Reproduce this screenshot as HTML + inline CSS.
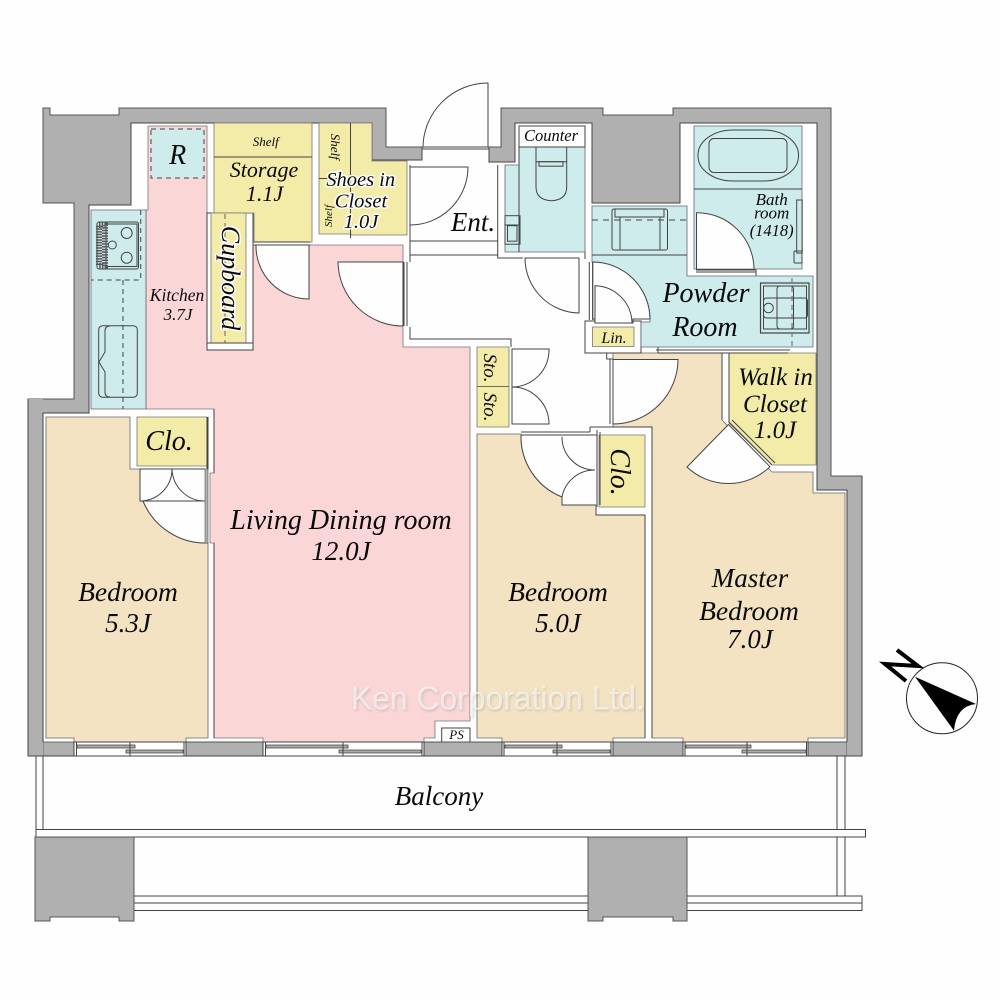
<!DOCTYPE html>
<html><head><meta charset="utf-8"><title>Floor plan</title>
<style>
html,body{margin:0;padding:0;background:#fefefe}
svg{display:block}
text{font-family:"Liberation Serif",serif;font-style:italic;text-anchor:middle;fill:#0a0a0a}
.h{paint-order:stroke;stroke:#fff;stroke-width:3px;stroke-linejoin:round}
.l{fill:none;stroke:#444;stroke-width:1}
.w{fill:#fefefe;stroke:#444;stroke-width:1}
.g{fill:#b0b0b0;stroke:#555;stroke-width:1}
.y{fill:#f3eba8;stroke:#777;stroke-width:.8}
.b{fill:#f3e3c3;stroke:#666;stroke-width:.8}
.p{fill:#fad6d6;stroke:#777;stroke-width:.8}
.c{fill:#cdeceb;stroke:#667;stroke-width:.8}
.d{fill:none;stroke:#444;stroke-width:1;stroke-dasharray:5 4}
.s{fill:#aaa;stroke:#444;stroke-width:.8}
</style></head><body>
<svg width="1000" height="1000" viewBox="0 0 1000 1000" xmlns="http://www.w3.org/2000/svg">
<defs><filter id="bl"><feGaussianBlur stdDeviation="1.2"/></filter></defs>
<rect width="1000" height="1000" fill="#fefefe"/>

<!-- balcony -->
<path class="l" d="M36,756V837M43,756V830M837,756V896M845,756V896" />
<rect class="w" x="36" y="829.5" width="829.5" height="7.5"/>
<path class="w" d="M134,896H588V903H134ZM134,903H588V910.5H134ZM687,896H862V903H687ZM687,903H862V910.5H687Z"/>
<path class="g" d="M35,837H134V921H119V917H50V921H35Z"/>
<path class="g" d="M588,837H687V921H673V917H603V921H588Z"/>

<!-- walls -->
<path class="g" d="M43,108H50V115H119V108H386V147H422V160H489V147H501V108H603V115H673V108H831V476H862V756H28V399H74V203H43Z"/>
<path class="w" d="M131,123H372V160H422V147H489V162H515V123H592V203H680V123H817V490H847V756H43V413H89V205H131Z"/>

<!-- rooms -->
<path class="p" d="M148,126H207V350H253V245H403V347H470V721H435V738H424V742H263V738H214V543H210V473H214V409H146V210H148Z"/>
<path class="w" d="M207,213H253V350H207Z" />
<path class="b" d="M46,417H130V469H140V501H143A68,68 0 0 0 208,543V738H186V742H74V738H46Z"/>
<path class="b" d="M477,434H521A65,65 0 0 0 562,497V505H596V515H645V738H613V742H502V738H477Z"/>
<path class="b" d="M613,353H722V420L772,472H813V493H845V738H808V742H683V738H652V427H613Z"/>

<!-- white wall strip between bedrooms -->
<path class="w" d="M596,507H645V515H596Z" style="stroke:none"/>
<path class="l" d="M596,507V515H645V738M652,738V427H590M590,427V432"/>

<!-- yellow rooms -->
<path class="y" d="M214,123H312V242H254V213H214Z"/>
<path class="l" d="M214,157H312"/>
<path class="y" d="M211,213H246V343H211Z"/>
<path class="d" d="M225,214V343" style="stroke-width:.8"/>
<path class="y" d="M319,123H372V161H407V235H351V234H319Z"/>
<path class="l" d="M350.5,123V238M319,178.5H350.5"/>
<path class="y" d="M137,417H207V466H137Z"/>
<path class="y" d="M477,347H509V427H477Z"/>
<path class="l" d="M477,386.5H509" style="stroke-width:.7"/>
<path class="y" d="M599,435H645V507H599Z"/>
<path class="w" d="M585,321H641V353H585Z"/>
<path class="y" d="M592.5,327H634V346.5H592.5Z"/>
<path class="y" d="M729,353H816V465H772L729,423Z"/>

<!-- teal rooms -->
<path class="c" d="M91,210H146V409H91Z"/>
<path class="c" d="M151,129H204V178H151Z" style="stroke:none"/>
<path class="d" d="M151,129H204V178H151Z"/>
<path class="c" d="M505,165H519V147H585V252H505Z"/>
<path class="w" d="M519,126H585V147H519Z"/>
<path class="c" d="M592,206H687V276H813V347H641V322H650A57.5,57.5 0 0 0 592,262Z"/>
<path class="l" d="M592,255H687"/>
<path class="c" d="M694,126H802V269H694Z"/>
<path class="l" d="M694,189H802"/>

<!-- kitchen fixtures -->
<rect class="l" x="97" y="222" width="41.5" height="47" rx="2"/>
<rect class="l" x="106" y="224" width="31" height="42.5"/>
<rect class="l" x="99" y="225" width="6" height="41" style="stroke:#555;stroke-dasharray:1.5 1.2;stroke-width:6" />
<circle class="l" cx="126.7" cy="233" r="5.5"/><circle class="l" cx="112.3" cy="245" r="4"/><circle class="l" cx="126.7" cy="257.7" r="5.5"/>
<path class="d" d="M140.7,210V280H91M123,280V409"/>
<rect class="l" x="98.7" y="325.7" width="38.6" height="71.6" rx="4"/>
<path class="l" d="M105,331Q105,326 110,326M105,331V352L99,362L105,372V392Q105,397 110,397"/>

<!-- toilet -->
<path class="l" d="M536,147V187Q536,200 551.5,200.7Q566.7,200 566.7,187V147M536,161.7H566.7"/>
<rect class="l" x="539" y="161.7" width="24" height="4.5"/>
<rect class="l" x="505" y="215.7" width="15" height="28.5"/>
<path class="l" d="M505,225H520M519,147V252"/>
<rect class="l" x="507.5" y="225.7" width="9.5" height="15.5"/>

<!-- washer -->
<rect class="l" x="612" y="209" width="55.5" height="41" rx="2"/>
<path class="l" d="M615,209V217H664V209M620,217V250M660,217V250"/>
<path class="d" d="M592,220H687" style="stroke-dasharray:6 5"/>

<!-- bath -->
<rect class="l" x="698" y="130" width="100.5" height="51" rx="35" ry="25"/>
<rect class="l" x="709" y="138.5" width="78" height="34" rx="5"/>
<rect class="l" x="796.7" y="200" width="5.5" height="53"/>
<rect class="l" x="794" y="251" width="8" height="12" rx="1"/>
<path class="w" d="M696.5,212.7A57,57 0 0 1 754,269.3H696.5Z"/>
<path class="l" d="M696,270H756M696,272H756M756,269.5V276"/>

<!-- washbasin -->
<rect x="760.5" y="283" width="48.5" height="50" fill="none" stroke="#444" stroke-width="1.2"/>
<rect class="l" x="763.5" y="286" width="43" height="43"/>
<rect class="l" x="763.5" y="298" width="44" height="20" rx="3"/>
<rect class="l" x="777" y="286" width="16.5" height="43" rx="3"/>
<circle class="l" cx="768.5" cy="308" r="4.8"/>
<path class="d" d="M792,278V347" style="stroke:#778;stroke-width:1.2"/>

<!-- doors -->
<path class="w" d="M488,147V83A65,65 0 0 0 423,147" style="fill:#fefefe"/>
<path class="l" d="M422,147H489M422,149H489"/>
<path class="w" d="M410,167H468A58,58 0 0 1 410,225Z"/>
<path class="w" d="M309,245V299A53,53 0 0 1 256,245Z"/>
<path class="w" d="M403,262H338A65,65 0 0 0 403,326Z"/>
<path class="w" d="M579,258V313A55,55 0 0 1 525,258Z"/>
<path class="w" d="M592.7,262A57.5,57.5 0 0 1 650,319H633V323H595V319H592.7Z" style="stroke-linejoin:bevel"/>
<path class="w" d="M595,285.7A38,38 0 0 1 632,323H595Z"/>
<path class="w" d="M512,349H549A37,37 0 0 1 512,387Z"/>
<path class="w" d="M512,387A37,37 0 0 1 549,424H512Z"/>
<path class="w" d="M613,359.5H678A65,65 0 0 1 613,424Z"/>
<path class="w" d="M728.5,424.5L770,466.7A60,60 0 0 1 687,467Z"/>
<path class="l" d="M729,422L772,465M732,420L775,463"/>
<path class="w" d="M140,469H205V543H208A68,68 0 0 1 143,501H140Z" style="stroke:none"/>
<path class="l" d="M143,501A68,68 0 0 0 208,543"/>
<path class="l" d="M140,469V501A32,32 0 0 0 172,469A33,33 0 0 0 205,501H140M140,469H205"/>
<path class="g" d="M205,469H208V543H205Z" style="stroke-width:.6"/>
<path class="w" d="M521,435H595V505H562V497A65,65 0 0 1 521,435Z" style="stroke:none"/>
<path class="l" d="M521,435A65,65 0 0 0 562,497V505H596"/>
<path class="l" d="M562,436.7A33,33 0 0 0 595,470A33,33 0 0 0 562,497"/>
<path class="l" d="M521,432H590M521,435H597M597,430V507M600,432V505"/>

<!-- misc wall lines -->
<path class="l" d="M410,165V262M410,327V339H511V347M404,262V326M407,262V326M410,241H497.7M410,255H497.7M497.7,165V258H523M585,252V259M589.3,262V320M592.7,262V320"/>
<path class="l" d="M610,359V424M613,359V424M585.3,353H606.7V359H613M658,347V353H788M656,350H790"/>
<path class="l" d="M254,242H310M254,245H310M207,350H253M207,343H253M207,350V343M253,238V350"/>
<path class="l" d="M722,353V420M729,353V423M207,469V417M214,409V473M214,543V738M208,469V417"/>

<!-- PS -->
<rect class="w" x="441.7" y="728" width="28.3" height="14"/>

<!-- pillars bottom -->
<rect class="g" x="43" y="742" width="31" height="14" style="stroke-width:.8"/>
<rect class="g" x="186" y="742" width="77" height="14"/>
<rect class="g" x="424" y="742" width="78" height="14"/>
<rect class="g" x="613" y="742" width="70" height="14"/>
<rect class="g" x="808" y="742" width="39" height="14"/>
<path d="M28,756V399H43V756ZM847,490H862V756H847Z" fill="#b0b0b0"/>
<path class="l" d="M28,756H862V476M28,399V756M43,413V742M847,490V742"/>

<!-- windows -->
<path class="w" d="M74,742H186V756H74ZM263,742H424V756H263ZM502,742H613V756H502ZM683,742H808V756H683Z"/>
<path class="s" d="M77,745H135V748H77ZM126,750H183V753H126ZM266,745H348V748H266ZM339,750H421V753H339ZM505,745H562V748H505ZM553,750H610V753H553ZM686,745H751V748H686ZM742,750H806V753H742Z"/>
<path class="l" d="M130,742V756M343,742V756M557,742V756M747,742V756M76.5,742V756M184,742V756M265.5,742V756M422,742V756M504,742V756M611,742V756M685,742V756M806.5,742V756"/>

<!-- labels -->
<text x="177.7" y="164" font-size="28">R</text>
<text x="265.7" y="146" font-size="13">Shelf</text>
<text x="264" y="177" font-size="22">Storage</text>
<text x="264.5" y="201" font-size="22">1.1J</text>
<text transform="translate(331,146.7) rotate(90)" font-size="13">Shelf</text>
<text transform="translate(332,216) rotate(-90)" font-size="11">Shelf</text>
<text class="h" x="360.7" y="186" font-size="20.5">Shoes in</text>
<text class="h" x="361" y="207.5" font-size="20.5">Closet</text>
<text class="h" x="361" y="228" font-size="20.5">1.0J</text>
<text class="h" transform="translate(222,278) rotate(90)" font-size="26">Cupboard</text>
<text x="177" y="301" font-size="17.5">Kitchen</text>
<text x="178" y="320" font-size="17">3.7J</text>
<text x="169" y="450" font-size="28">Clo.</text>
<text x="551" y="141" font-size="16.5">Counter</text>
<text x="473" y="231" font-size="27">Ent.</text>
<text x="771.7" y="205" font-size="17">Bath</text>
<text x="771.7" y="218.5" font-size="17">room</text>
<text x="771.7" y="236" font-size="16.5">(1418)</text>
<text x="706" y="302" font-size="28">Powder</text>
<text x="705" y="336" font-size="28">Room</text>
<text x="614" y="343" font-size="16">Lin.</text>
<text transform="translate(484,368) rotate(90)" font-size="19">Sto.</text>
<text transform="translate(484,407) rotate(90)" font-size="19">Sto.</text>
<text transform="translate(611,472) rotate(90)" font-size="28">Clo.</text>
<text x="775.5" y="385" font-size="25">Walk in</text>
<text x="775" y="412" font-size="25">Closet</text>
<text x="775" y="438" font-size="25">1.0J</text>
<text x="341" y="529" font-size="28">Living Dining room</text>
<text x="341" y="560" font-size="27">12.0J</text>
<text x="128" y="601" font-size="27.5">Bedroom</text>
<text x="128" y="632" font-size="27">5.3J</text>
<text x="558" y="601" font-size="27.5">Bedroom</text>
<text x="558" y="632" font-size="27">5.0J</text>
<text x="750" y="587" font-size="27">Master</text>
<text x="749" y="620" font-size="27.5">Bedroom</text>
<text x="750" y="648" font-size="27">7.0J</text>
<text x="439" y="805" font-size="27">Balcony</text>
<text x="456.5" y="739" font-size="13">PS</text>

<!-- watermark -->
<text x="499" y="711" font-size="33" textLength="294" lengthAdjust="spacingAndGlyphs" style="font-family:'Liberation Sans',sans-serif;font-style:normal;fill:#888" opacity=".35" filter="url(#bl)">Ken Corporation Ltd.</text>
<text x="498" y="709.5" font-size="33" textLength="294" lengthAdjust="spacingAndGlyphs" style="font-family:'Liberation Sans',sans-serif;font-style:normal;fill:#fff" opacity=".6">Ken Corporation Ltd.</text>

<!-- compass -->
<circle cx="942" cy="698.3" r="35.5" fill="#fefefe" stroke="#222" stroke-width="1"/>
<path d="M915,676.7L976,704Q956,706 954,730.7Z" fill="#000"/>
<path d="M897,650L918,666L885,664L906,681" fill="none" stroke="#000" stroke-width="4"/>
</svg>
</body></html>
